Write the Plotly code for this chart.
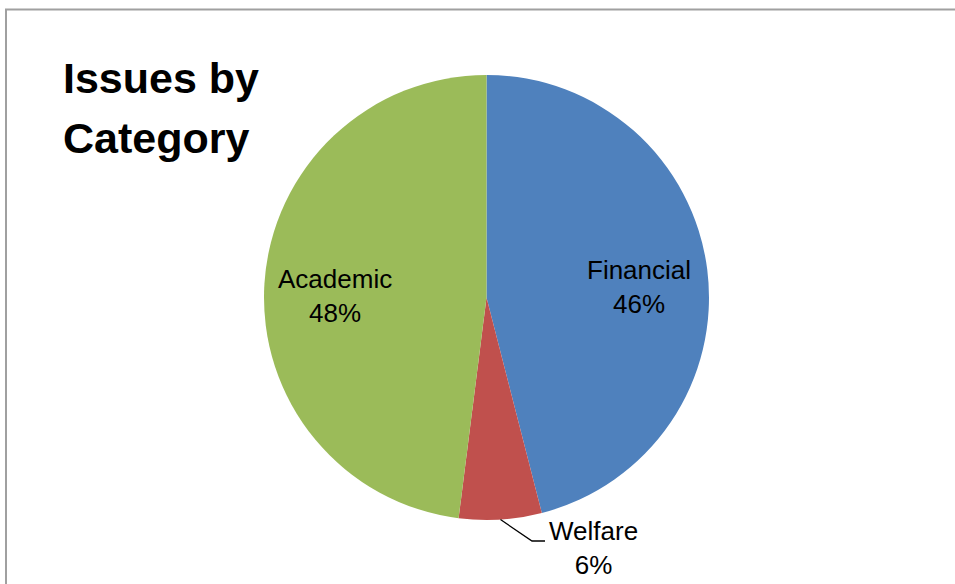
import math
import plotly.graph_objects as go

# Issue counts by category (shares in percent)
categories = ["Financial", "Welfare", "Academic"]
shares = [46, 6, 48]
colors = ["#4F81BD", "#C0504D", "#9BBB59"]

W, H = 955, 584
FONT = "Arial, Liberation Sans, sans-serif"

# pie geometry in pixels
cx, cy, r = 486.5, 297.5, 222.5


def px(x):
    return x / W


def py(y):
    return 1 - y / H


fig = go.Figure(
    go.Pie(
        labels=categories,
        values=shares,
        sort=False,
        direction="clockwise",
        rotation=0,
        marker=dict(colors=colors, line=dict(width=0)),
        textinfo="none",
        hoverinfo="label+percent",
        showlegend=False,
        domain=dict(x=[px(cx - r), px(cx + r)], y=[py(cy + r), py(cy - r)]),
    )
)

total = sum(shares)
annotations = []
shapes = []

# slice mid-angles (degrees clockwise from 12 o'clock)
mids = []
acc = 0
for v in shares:
    mids.append((acc + v / 2) / total * 360)
    acc += v


def label_text(name, v):
    return f"{name}<br>{round(v / total * 100)}%"


LABEL_FONT = dict(family=FONT, size=26, color="#000000")

# inside labels for the two large slices
inside_pos = {"Financial": (639, 287), "Academic": (335, 296)}
for name, v in zip(categories, shares):
    if name in inside_pos:
        x, y = inside_pos[name]
        annotations.append(dict(
            x=px(x), y=py(y), xref="paper", yref="paper",
            text=label_text(name, v), showarrow=False,
            font=LABEL_FONT,
            align="center", xanchor="center", yanchor="middle",
        ))

# outside label for Welfare with a leader line
i = categories.index("Welfare")
a = math.radians(mids[i])
ex, ey = cx + r * math.sin(a), cy - r * math.cos(a)
elbow = (532, 541)
end = (545, 541)
shapes.append(dict(
    type="path", xref="paper", yref="paper",
    path=f"M {px(ex)},{py(ey)} L {px(elbow[0])},{py(elbow[1])} L {px(end[0])},{py(end[1])}",
    line=dict(color="#000000", width=1.3),
))
annotations.append(dict(
    x=px(593), y=py(548), xref="paper", yref="paper",
    text=label_text(categories[i], shares[i]), showarrow=False,
    font=LABEL_FONT,
    align="center", xanchor="center", yanchor="middle",
))

# chart title, two lines
for text, y in [("Issues by", 78), ("Category", 138)]:
    annotations.append(dict(
        x=px(61), y=py(y), xref="paper", yref="paper",
        text=f"<b>{text}</b>", showarrow=False,
        font=dict(family=FONT, size=43, color="#000000"),
        align="left", xanchor="left", yanchor="middle",
    ))

# chart area border
shapes.append(dict(
    type="rect", xref="paper", yref="paper",
    x0=px(6), y0=-0.05, x1=1.05, y1=py(9.5),
    line=dict(color="#A0A0A0", width=2),
))

fig.update_layout(
    width=W, height=H,
    margin=dict(l=0, r=0, t=0, b=0),
    paper_bgcolor="white", plot_bgcolor="white",
    annotations=annotations, shapes=shapes,
)

fig.write_html("out.html")
